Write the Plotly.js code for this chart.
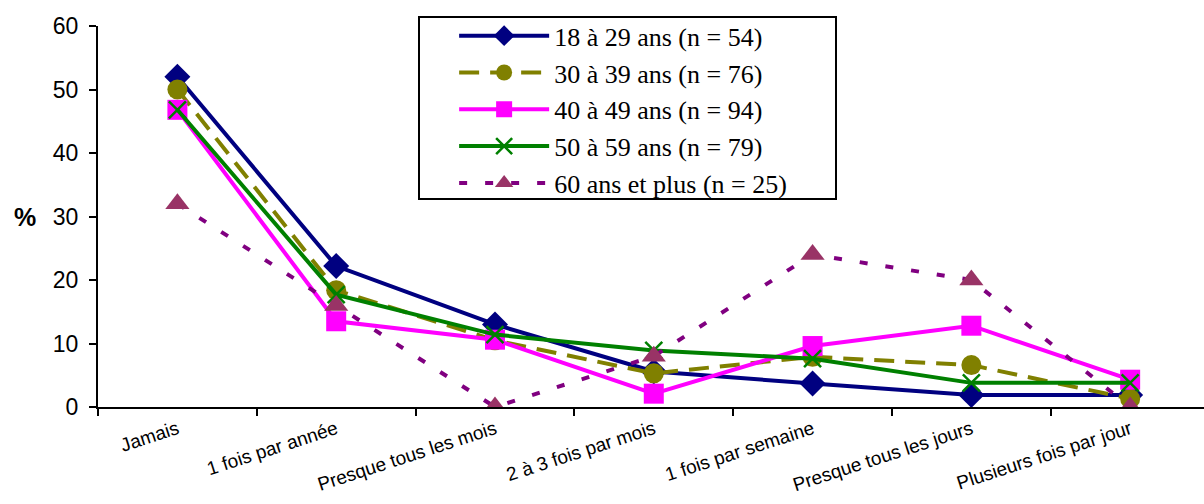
<!DOCTYPE html>
<html><head><meta charset="utf-8">
<script src="https://cdn.plot.ly/plotly-3.0.1.min.js"></script>
<style>html,body{margin:0;padding:0;background:#fff}</style>
</head><body><div id="chart" style="width:1204px;height:504px"></div>
<script>
const categories = ["Jamais","1 fois par année","Presque tous les mois","2 à 3 fois par mois","1 fois par semaine","Presque tous les jours","Plusieurs fois par jour"];
const seriesNames = ["18 à 29 ans (n = 54)","30 à 39 ans (n = 76)","40 à 49 ans (n = 94)","50 à 59 ans (n = 79)","60 ans et plus (n = 25)"];
const age18_29 = [52, 22.2, 13, 5.6, 3.7, 1.9, 1.9];
const age30_39 = [50, 18.4, 10.5, 5.3, 7.9, 6.6, 1.3];
const age40_49 = [46.8, 13.5, 10.6, 2.1, 9.6, 12.8, 4.3];
const age50_59 = [46.8, 17.7, 11.4, 8.9, 7.6, 3.8, 3.8];
const age60plus = [32, 16, 0, 8, 24, 20, 0];
const yTicks = [0,10,20,30,40,50,60];

const styles = [
  {color:"#000080", dash:"solid", symbol:"diamond", size:20, mcolor:"#000080"},
  {color:"#808000", dash:"20px,11px", symbol:"circle", size:20, mcolor:"#808000"},
  {color:"#FF00FF", dash:"solid", symbol:"square", size:20, mcolor:"#FF00FF"},
  {color:"#008000", dash:"solid", symbol:"x-thin", size:17, mcolor:"#008000"},
  {color:"#800080", dash:"8px,18px", symbol:"triangle-up", size:21, mcolor:"#993366"}
];
const data = [age18_29, age30_39, age40_49, age50_59, age60plus];
const traces = data.map((ys,i)=>({
  type:"scatter", mode:"lines+markers", x:categories, y:ys, name:seriesNames[i],
  line:{color:styles[i].color, width:4, dash:styles[i].dash},
  marker:{symbol:styles[i].symbol, size:styles[i].size, color:styles[i].mcolor,
    line:{color:styles[i].mcolor, width: styles[i].symbol==="x-thin"?2.5:0}}
}));
const layout = {
  width:1204, height:504,
  margin:{l:98, r:0, t:26, b:97},
  paper_bgcolor:"#fff", plot_bgcolor:"#fff",
  showlegend:true,
  legend:{x:0.322, y:1.036, xanchor:"left", yanchor:"top", bgcolor:"rgba(0,0,0,0)",
    borderwidth:0,
    font:{family:"Liberation Sans Narrow, Liberation Serif, Times New Roman, serif", size:26, color:"#000"},
    tracegroupgap:0, itemwidth:90},
  xaxis:{type:"category", range:[-0.5,6.465], tickson:"boundaries",
    tickangle:-18, ticks:"outside", ticklen:7, tickwidth:2, tickcolor:"#000",
    showline:true, linecolor:"#000", linewidth:2, showgrid:false, zeroline:false,
    ticklabelstandoff:2,
    tickfont:{family:"Liberation Sans, Arial, sans-serif", size:19, color:"#000"}},
  yaxis:{range:[0,60], tickvals:yTicks, ticks:"outside", ticklen:7, tickwidth:2, tickcolor:"#000",
    showline:true, linecolor:"#000", linewidth:2, showgrid:false, zeroline:false,
    ticklabelstandoff:6,
    tickfont:{family:"Liberation Sans, Arial, sans-serif", size:23, color:"#000"}},
  shapes:[{type:"rect", xref:"paper", yref:"paper", layer:"below",
    x0:(419-98)/1106, x1:(836-98)/1106, y0:(407-199)/381, y1:(407-17)/381,
    line:{color:"#000", width:2}, fillcolor:"#fff"}],
  annotations:[{text:"<b>%</b>", xref:"paper", yref:"paper", x:-0.066, y:0.5, xanchor:"center", yanchor:"middle",
    showarrow:false, font:{family:"Liberation Sans, Arial, sans-serif", size:25, color:"#000"}}]
};
layout.legend.font.family = "Liberation Serif, Times New Roman, serif";
Plotly.newPlot("chart", traces, layout, {displayModeBar:false});
</script></body></html>
